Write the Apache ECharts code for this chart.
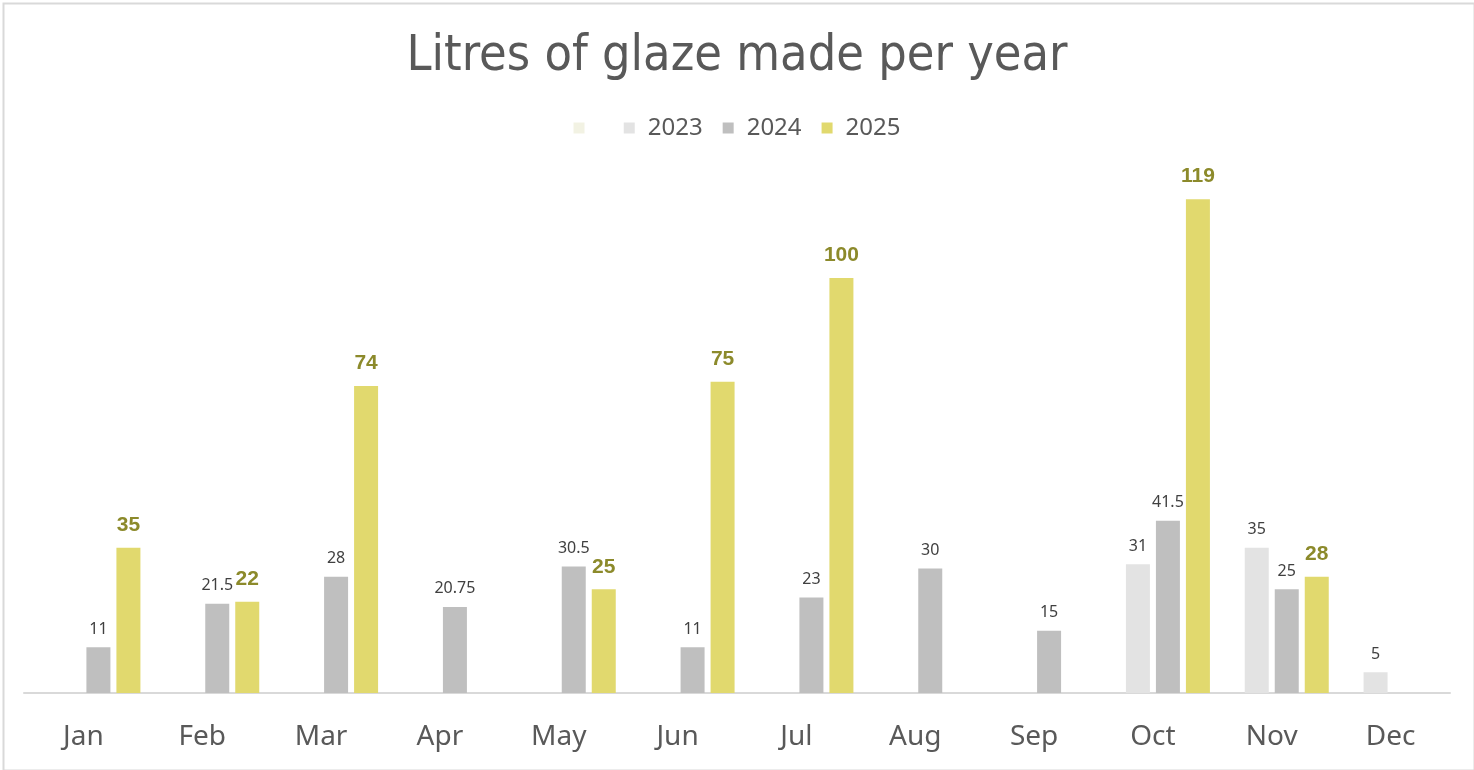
<!DOCTYPE html>
<html><head><meta charset="utf-8">
<script src="https://cdn.jsdelivr.net/npm/echarts@6/dist/echarts.min.js"></script>
<style>html,body{margin:0;padding:0;background:#fff}#c{width:1474px;height:770px}</style>
</head><body><div id="c"></div>
<script>
const categories = ['Jan','Feb','Mar','Apr','May','Jun','Jul','Aug','Sep','Oct','Nov','Dec'];
const seriesNames = [' ', '2023', '2024', '2025'];
const values0 = [null,null,null,null,null,null,null,null,null,null,null,null];
const values2023 = [null,null,null,null,null,null,null,null,null,31,35,5];
const values2024 = [11,21.5,28,20.75,30.5,11,23,30,15,41.5,25,null];
const values2025 = [35,22,74,null,25,75,100,null,null,119,28,null];

const chart = echarts.init(document.getElementById('c'));
const font = "'Liberation Sans Narrow','DejaVu Sans Condensed','Noto Sans',sans-serif";
function mk(name, data, color, label){
  return {name, type:'bar', data, barWidth:24, barGap:'25%', itemStyle:{color},
    label: Object.assign({show:true, position:'top', distance:10}, label), silent:true};
}
chart.setOption({
  animation:false,
  graphic:[{type:'rect', left:1, top:1, shape:{x:0,y:0,width:1471,height:767},
    style:{fill:null, stroke:'#d9d9d9', lineWidth:2}, silent:true}],
  title:{text:'Litres of glaze made per year', left:'center', top:27,
    textStyle:{fontFamily:font, fontSize:50, fontWeight:'normal', color:'#595959'}},
  legend:{top:111, left:'center', itemWidth:11, itemHeight:11, itemGap:20, icon:'rect',
    data:seriesNames,
    textStyle:{fontFamily:"'Noto Sans',sans-serif", fontSize:24, color:'#595959', padding:[0,0,0,8]}},
  grid:{left:24, right:24, top:112, bottom:77, containLabel:false},
  xAxis:{type:'category', data:categories,
    axisLine:{lineStyle:{color:'#d9d9d9', width:2}}, axisTick:{show:false},
    axisLabel:{fontFamily:"'Noto Sans',sans-serif", fontSize:28, color:'#595959', margin:30}},
  yAxis:{type:'value', min:0, max:140, show:false, splitLine:{show:false}},
  series:[
    mk(seriesNames[0], values0, '#f2f2e3', {color:'#404040'}),
    mk(seriesNames[1], values2023, '#e3e3e3', {fontFamily:"'Noto Sans',sans-serif", fontSize:16, color:'#404040'}),
    mk(seriesNames[2], values2024, '#bfbfbf', {fontFamily:"'Noto Sans',sans-serif", fontSize:16, color:'#404040'}),
    mk(seriesNames[3], values2025, '#e1d96e', {fontFamily:"'Liberation Sans','Noto Sans',sans-serif", fontSize:21, fontWeight:'bold', color:'#8c8a2b', distance:12})
  ]
});
</script></body></html>
